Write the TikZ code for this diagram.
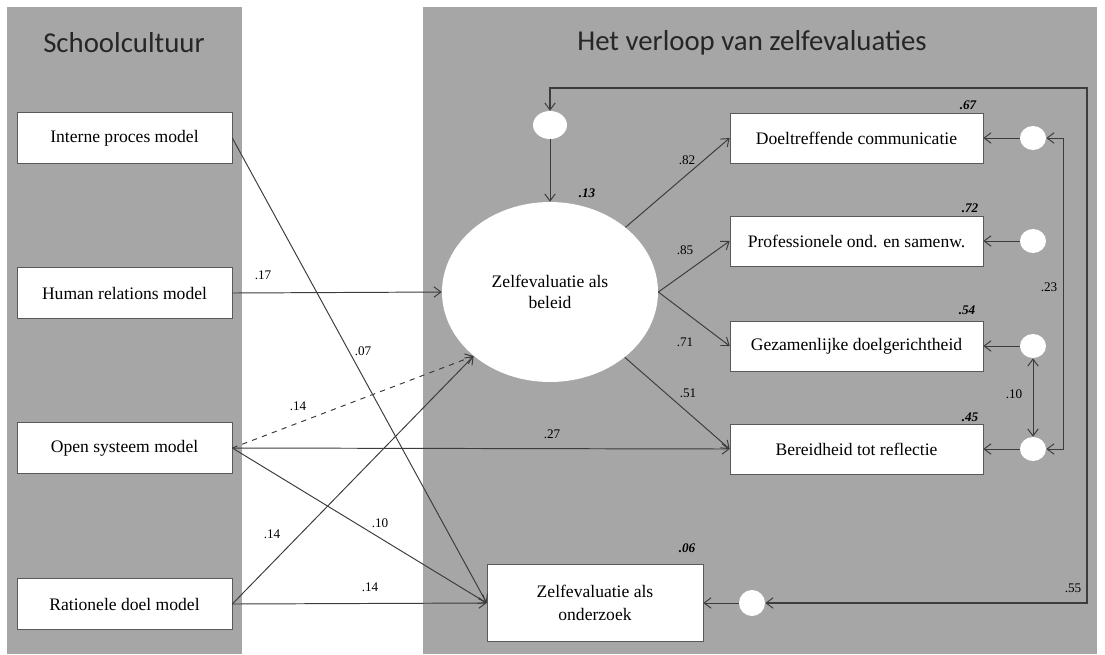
\documentclass[tikz,border=0pt]{standalone}
\usepackage{fontspec}
\setmainfont{Liberation Serif}
\newfontfamily\titlefont{Carlito}
\usepackage{tikz}
\usetikzlibrary{arrows.meta,positioning,shapes.geometric}
\definecolor{panelgray}{RGB}{166,166,166}
\definecolor{linegray}{RGB}{60,60,60}
\tikzset{
  arr/.style={draw=linegray, line width=0.55pt, -{Straight Barb[length=4pt,width=6pt,line width=0.55pt]}},
  dasharr/.style={arr, dashed},
  covar/.style={draw=linegray, line width=0.55pt, {Straight Barb[length=4pt,width=6pt,line width=0.55pt]}-{Straight Barb[length=4pt,width=6pt,line width=0.55pt]}},
  modelbox/.style={draw=black!65, fill=white, minimum width=4.3cm, minimum height=1.02cm, inner sep=0pt, font=\fontsize{10}{11}\selectfont},
  outbox/.style={modelbox, minimum width=5.06cm, minimum height=1.0cm},
  errc/.style={ellipse, fill=white, inner sep=0pt, minimum width=0.52cm, minimum height=0.48cm},
  coef/.style={inner sep=0pt, font=\fontsize{7.5}{8}\selectfont},
  rsq/.style={inner sep=0pt, font=\fontsize{7.5}{8}\selectfont\bfseries\itshape},
  paneltitle/.style={inner sep=0pt, text=black!85, font=\titlefont\fontsize{16.4}{18}\selectfont}
}

\begin{document}
\begin{tikzpicture}[x=0.02cm,y=-0.02cm]
    \useasboundingbox (0,0) rectangle (1105,654);

    % Panels
    \fill[panelgray] (7,7) rectangle (242,654);
    \fill[panelgray] (423,7) rectangle (1097,654);
    \node[paneltitle] (tschool) at (124,43) {Schoolcultuur};
    \node[paneltitle] (tverloop) at (752,43) {Het verloop van zelfevaluaties};

    % School culture models
    \node[modelbox] (intern) at (124.5,138) {Interne proces model};
    \node[modelbox] (human) at (124.5,293) {Human relations model};
    \node[modelbox] (open) at (124.5,448) {Open systeem model};
    \node[modelbox] (ratio) at (124.5,604) {Rationele doel model};

    % Self-evaluation
    \node[ellipse, draw=none, fill=white, minimum width=4.32cm, minimum height=3.6cm, inner sep=0pt,
          align=center, font=\fontsize{10}{12}\selectfont] (beleid) at (550,292) {Zelfevaluatie als\\beleid};
    \node[outbox] (doel) at (856.5,138) {Doeltreffende communicatie};
    \node[outbox] (prof) at (856.5,241) {Professionele ond. en samenw.};
    \node[outbox] (gez) at (856.5,346) {Gezamenlijke doelgerichtheid};
    \node[outbox] (bereid) at (856.5,449) {Bereidheid tot reflectie};
    \node[modelbox, minimum width=4.32cm, minimum height=1.54cm, align=center,
          font=\fontsize{10}{13}\selectfont] (onder) at (595,603) {Zelfevaluatie als\\onderzoek};

    % Error terms
    \node[errc, minimum width=0.68cm, minimum height=0.56cm] (e0) at (550,125) {};
    \node[errc] (e1) at (1033,138) {};
    \node[errc] (e2) at (1033,241) {};
    \node[errc] (e3) at (1033,346) {};
    \node[errc] (e4) at (1033,449) {};
    \node[errc, minimum height=0.52cm] (e5) at (752,603) {};
    \coordinate (rt) at (1087,88);
    \coordinate (rb) at (1087,603);
    \coordinate (c23) at (1063,138);

    % Paths from school culture
    \draw[arr] (intern.east) -- (onder.west);
    \draw[arr] (human.east) -- (beleid.west);
    \draw[dasharr] (open.east) -- (beleid.220);
    \draw[arr] (open.east) -- (bereid.west);
    \draw[arr] (open.east) -- (onder.west);
    \draw[arr] (ratio.east) -- (beleid.220);
    \draw[arr] (ratio.east) -- (onder.west);

    % Paths from beleid
    \draw[arr] (beleid) -- (doel.west);
    \draw[arr] (beleid.east) -- (prof.west);
    \draw[arr] (beleid.east) -- (gez.west);
    \draw[arr] (beleid) -- (bereid.west);

    % Error paths
    \draw[arr] (e0.south) -- (beleid.north);
    \draw[arr] (e1.west) -- (doel.east);
    \draw[arr] (e2.west) -- (prof.east);
    \draw[arr] (e3.west) -- (gez.east);
    \draw[arr] (e4.west) -- (bereid.east);
    \draw[arr] (e5.west) -- (onder.east);

    % Covariances
    \draw[covar, line width=1.1pt] (e0.north) |- (rt) -- (rb) -- (e5.east);
    \draw[covar] (e1.east) -- (c23) |- (e4.east);
    \draw[covar] (e3.south) -- (e4.north);

    % Coefficients
    \node[coef] (l07) at (363,351) {.07};
    \node[coef] (l17) at (263,275) {.17};
    \node[coef] (l14a) at (298,406) {.14};
    \node[coef] (l27) at (552,434) {.27};
    \node[coef] (l10a) at (380,523) {.10};
    \node[coef] (l14b) at (272,534) {.14};
    \node[coef] (l14c) at (370,587) {.14};
    \node[coef] (l82) at (687,160) {.82};
    \node[coef] (l85) at (685,250) {.85};
    \node[coef] (l71) at (685,342) {.71};
    \node[coef] (l51) at (688,393) {.51};
    \node[coef] (l23) at (1049,287) {.23};
    \node[coef] (l10b) at (1014,394) {.10};
    \node[coef] (l55) at (1073,588) {.55};

    % Explained variance
    \node[rsq] (r13) at (587,193) {.13};
    \node[rsq] (r67) at (968,105) {.67};
    \node[rsq] (r72) at (970,208) {.72};
    \node[rsq] (r54) at (967,310) {.54};
    \node[rsq] (r45) at (970,417) {.45};
    \node[rsq] (r06) at (687,548) {.06};
\end{tikzpicture}
\end{document}
